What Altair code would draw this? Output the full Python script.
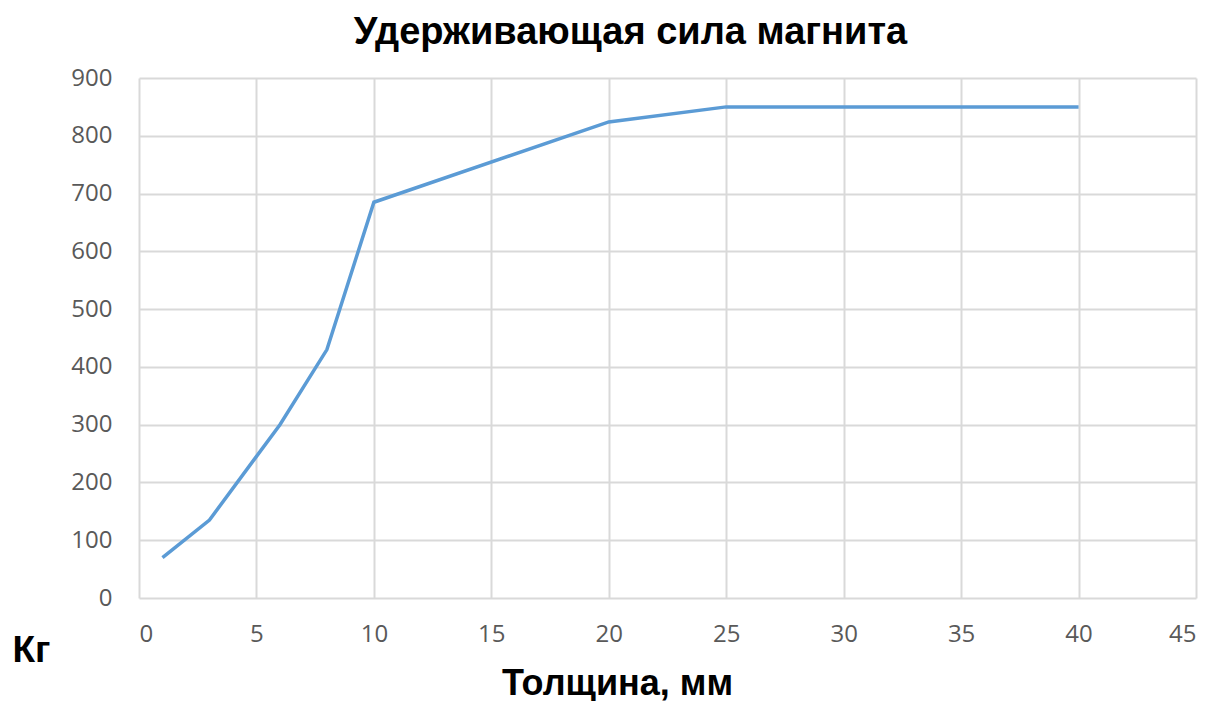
import altair as alt
import pandas as pd

thickness = [1, 3, 6, 8, 10, 20, 25, 30, 35, 40]
force = [70, 135, 300, 430, 685, 824, 850, 850, 850, 850]

df = pd.DataFrame({"t": thickness, "f": force})

chart = alt.Chart(df).mark_line(color="#5B9BD5", strokeWidth=3.5).encode(
    x=alt.X("t:Q", scale=alt.Scale(domain=[0, 45], nice=False),
            axis=alt.Axis(values=list(range(0, 46, 5)), title="Толщина, мм",
                          titleFontSize=36, titleFont="Liberation Sans", titleFontWeight="bold",
                          titleColor="#000000", titleX=478, titleY=85, titleAnchor="middle",
                          titleAlign="center", titleBaseline="middle",
                          labelFontSize=24, labelColor="#595959", labelFont="Open Sans",
                          labelPadding=24, tickSize=0, domain=False,
                          grid=True, gridColor="#D9D9D9", gridWidth=2)),
    y=alt.Y("f:Q", scale=alt.Scale(domain=[0, 900], nice=False),
            axis=alt.Axis(values=list(range(0, 901, 100)), title="Кг",
                          titleFontSize=37, titleFont="Liberation Sans", titleFontWeight="bold",
                          titleColor="#000000", titleAngle=0, titleX=-108, titleY=572,
                          titleAlign="center", titleBaseline="middle",
                          labelFontSize=24, labelColor="#595959", labelFont="Open Sans",
                          labelPadding=27, tickSize=0, domain=False,
                          grid=True, gridColor="#D9D9D9", gridWidth=2)),
).properties(
    width=1057, height=520,
    title=alt.TitleParams("Удерживающая сила магнита", fontSize=38, font="Liberation Sans",
                          fontWeight="bold", color="#000000", dx=-37, offset=14),
    autosize=alt.AutoSizeParams(type="none"),
    padding={"left": 131, "top": 70, "right": 5, "bottom": 103},
).configure_view(stroke=None)

chart.save("out.html", embed_options={"renderer": "svg", "actions": False})
